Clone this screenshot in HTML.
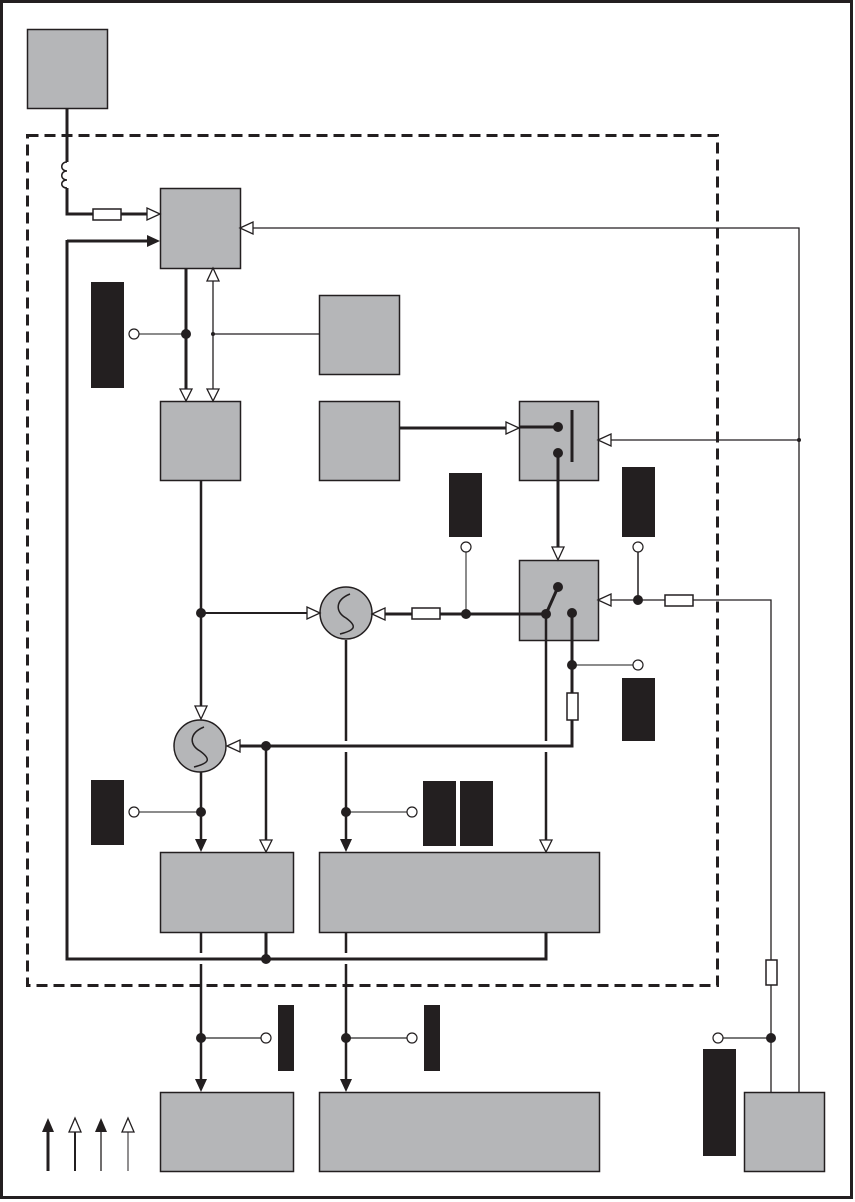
<!DOCTYPE html>
<html><head><meta charset="utf-8"><style>html,body{margin:0;padding:0;background:#fff}svg{display:block}</style></head>
<body>
<svg width="855" height="1202" viewBox="0 0 855 1202" xmlns="http://www.w3.org/2000/svg">
<g fill="none" stroke-linecap="butt">
<!-- outer border -->
<rect x="1.5" y="1.5" width="850" height="1196" stroke="#231f20" stroke-width="3"/>
<!-- dashed boundary -->
<rect x="27.5" y="135.5" width="690" height="850" stroke="#231f20" stroke-width="3" stroke-dasharray="11,6"/>
</g>
<!-- gray boxes -->
<g fill="#b5b6b8" stroke="#231f20" stroke-width="1.5">
<rect x="27.5" y="29.5" width="80" height="79"/>
<rect x="160.5" y="188.5" width="80" height="80"/>
<rect x="319.5" y="295.5" width="80" height="79"/>
<rect x="160.5" y="401.5" width="80" height="79"/>
<rect x="319.5" y="401.5" width="80" height="79"/>
<rect x="519.5" y="401.5" width="79" height="79"/>
<rect x="519.5" y="560.5" width="79" height="80"/>
<rect x="160.5" y="852.5" width="133" height="80"/>
<rect x="319.5" y="852.5" width="280" height="80"/>
<rect x="160.5" y="1092.5" width="133" height="79"/>
<rect x="319.5" y="1092.5" width="280" height="79"/>
<rect x="744.5" y="1092.5" width="80" height="79"/>
</g>
<!-- black rects -->
<g fill="#231f20">
<rect x="91" y="282" width="33" height="106"/>
<rect x="449" y="473" width="33" height="64"/>
<rect x="622" y="467" width="33" height="70"/>
<rect x="622" y="678" width="33" height="63"/>
<rect x="91" y="780" width="33" height="65"/>
<rect x="423" y="781" width="33" height="65"/>
<rect x="460" y="781" width="33" height="65"/>
<rect x="278" y="1005" width="16" height="66"/>
<rect x="424" y="1005" width="16" height="66"/>
<rect x="703" y="1049" width="33" height="107"/>
</g>
<g fill="none" stroke="#231f20">
<!-- top-left feed -->
<path d="M67 108 V162 M67 188 V214 H93 M121 214 H148" stroke-width="3"/>
<path d="M67 162 C60 162 60 171 67 171 C60 171 60 180 67 180 C60 180 60 188 67 188" stroke-width="1.5"/>
<!-- feedback loop -->
<path d="M67 241 H148 M67 240 V959 H546 V932 M266 932 V959" stroke-width="3"/>
<!-- thin right line -->
<path d="M253 228 H799 V1092 M799 440 H611" stroke-width="1.3"/>
<!-- 186 and 213 -->
<path d="M186 268 V389" stroke-width="3"/>
<path d="M213 281 V389 M213 334 H319" stroke-width="1.3"/>
<path d="M136 334 H186" stroke="#666" stroke-width="1.5"/>
<!-- D to E -->
<path d="M399 428 H506 M519 427 H558" stroke-width="3"/>
<path d="M572 410 V462" stroke-width="3"/>
<path d="M558 453 V547" stroke-width="3"/>
<!-- C down -->
<path d="M201 480 V706" stroke-width="2.5"/>
<path d="M201 613 H308" stroke-width="2"/>
<!-- S1 right side -->
<path d="M385 614 H412 M440 614 H546" stroke-width="3"/>
<path d="M466 614 V552" stroke="#666" stroke-width="1.5"/>
<path d="M546 614 L558 587" stroke-width="3"/>
<path d="M546 614 V741 M546 752 V840" stroke-width="2.5"/>
<path d="M572 613 V693 M572 720 V746 H240" stroke-width="3"/>
<path d="M572 665 H634" stroke="#666" stroke-width="1.5"/>
<path d="M266 746 V840" stroke-width="2.5"/>
<!-- right resistor line -->
<path d="M611 600 H665 M693 600 H771 V960 M771 985 V1092" stroke-width="1.3"/>
<path d="M638 600 V552" stroke-width="1.5"/>
<path d="M722 1038 H771" stroke="#666" stroke-width="1.8"/>
<!-- S1 down -->
<path d="M346 640 V741 M346 752 V839" stroke-width="2.5"/>
<path d="M346 812 H408" stroke="#666" stroke-width="1.5"/>
<!-- S2 down -->
<path d="M201 772 V839" stroke-width="2.5"/>
<path d="M138 812 H201" stroke="#666" stroke-width="1.5"/>
<!-- bottom outputs -->
<path d="M201 932 V953 M201 964 V1079 M346 932 V953 M346 964 V1079" stroke-width="2.5"/>
<path d="M201 1038 H262 M346 1038 H408" stroke="#666" stroke-width="1.8"/>
<!-- legend -->
<path d="M48 1132 V1171" stroke-width="3"/>
<path d="M75 1132 V1171" stroke-width="2"/>
<path d="M101 1132 V1171" stroke-width="1.3"/>
<path d="M128 1132 V1171" stroke-width="1"/>
</g>
<!-- resistors -->
<g fill="#fff" stroke="#231f20" stroke-width="1.5">
<rect x="93" y="209" width="28" height="11"/>
<rect x="412" y="608" width="28" height="11"/>
<rect x="665" y="595" width="28" height="11"/>
<rect x="567" y="693" width="11" height="27"/>
<rect x="766" y="960" width="11" height="25"/>
</g>
<!-- S circles -->
<g fill="#b5b6b8" stroke="#231f20" stroke-width="1.5">
<circle cx="346" cy="613" r="26"/>
<circle cx="200" cy="746" r="26"/>
</g>
<g fill="none" stroke="#231f20" stroke-width="1.5">
<path d="M350 594 C335 600 335 612 346 618 C357 626 356 630 340 634"/>
<path d="M204 727 C189 733 189 745 200 751 C211 759 210 763 194 767"/>
</g>
<!-- open arrowheads -->
<g fill="#fff" stroke="#231f20" stroke-width="1.3">
<polygon points="160,214 147,208 147,220"/>
<polygon points="240,228 253,222 253,234"/>
<polygon points="186,401 180,389 192,389"/>
<polygon points="213,401 207,389 219,389"/>
<polygon points="213,268 207,281 219,281"/>
<polygon points="519,428 506,422 506,434"/>
<polygon points="598,440 611,434 611,446"/>
<polygon points="558,560 552,547 564,547"/>
<polygon points="598,600 611,594 611,606"/>
<polygon points="320,613 307,607 307,619"/>
<polygon points="372,614 385,608 385,620"/>
<polygon points="201,719 195,706 207,706"/>
<polygon points="227,746 240,740 240,752"/>
<polygon points="266,852 260,840 272,840"/>
<polygon points="546,852 540,840 552,840"/>
<polygon points="75,1118 69,1132 81,1132"/>
<polygon points="128,1118 122,1132 134,1132"/>
</g>
<!-- filled arrowheads -->
<g fill="#231f20">
<polygon points="160,241 147,235 147,247"/>
<polygon points="346,852 340,839 352,839"/>
<polygon points="201,852 195,839 207,839"/>
<polygon points="201,1092 195,1079 207,1079"/>
<polygon points="346,1092 340,1079 352,1079"/>
<polygon points="48,1118 42,1132 54,1132"/>
<polygon points="101,1118 95,1132 107,1132"/>
</g>
<!-- dots -->
<g fill="#231f20">
<circle cx="186" cy="334" r="5"/>
<circle cx="213" cy="334" r="2"/>
<circle cx="799" cy="440" r="2"/>
<circle cx="558" cy="427" r="5"/>
<circle cx="558" cy="453" r="5"/>
<circle cx="201" cy="613" r="5"/>
<circle cx="466" cy="614" r="5"/>
<circle cx="546" cy="614" r="5"/>
<circle cx="558" cy="587" r="5"/>
<circle cx="572" cy="613" r="5"/>
<circle cx="572" cy="665" r="5"/>
<circle cx="638" cy="600" r="5"/>
<circle cx="266" cy="746" r="5"/>
<circle cx="201" cy="812" r="5"/>
<circle cx="346" cy="812" r="5"/>
<circle cx="266" cy="959" r="5"/>
<circle cx="201" cy="1038" r="5"/>
<circle cx="346" cy="1038" r="5"/>
<circle cx="771" cy="1038" r="5"/>
</g>
<!-- open circles -->
<g fill="#fff" stroke="#231f20" stroke-width="1.2">
<circle cx="134" cy="334" r="5"/>
<circle cx="466" cy="547" r="5"/>
<circle cx="638" cy="547" r="5"/>
<circle cx="638" cy="665" r="5"/>
<circle cx="134" cy="812" r="5"/>
<circle cx="412" cy="812" r="5"/>
<circle cx="266" cy="1038" r="5"/>
<circle cx="412" cy="1038" r="5"/>
<circle cx="718" cy="1038" r="5"/>
</g>
</svg>
</body></html>
